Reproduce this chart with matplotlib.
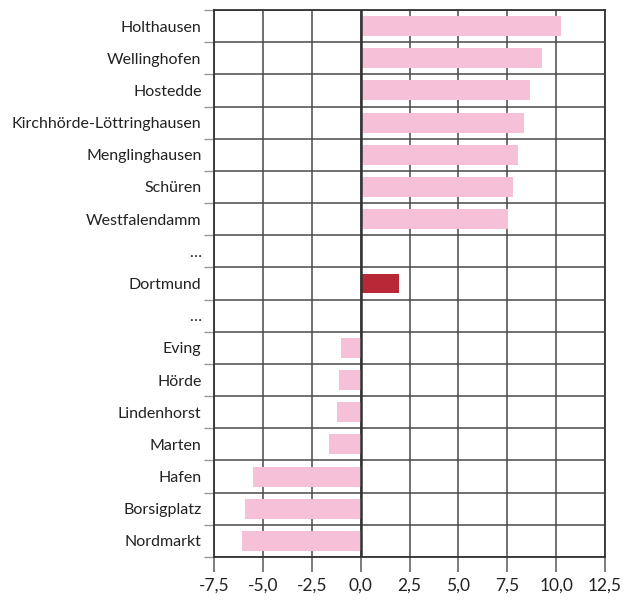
import numpy as np
import matplotlib.pyplot as plt
from matplotlib.ticker import FixedLocator

plt.rcParams['font.family'] = ['Lato', 'DejaVu Sans']

districts = ['Holthausen', 'Wellinghofen', 'Hostedde', 'Kirchhörde-Löttringhausen',
             'Menglinghausen', 'Schüren', 'Westfalendamm', '…', 'Dortmund', '…',
             'Eving', 'Hörde', 'Lindenhorst', 'Marten', 'Hafen', 'Borsigplatz', 'Nordmarkt']
values = [10.25, 9.28, 8.67, 8.34, 8.03, 7.81, 7.52, np.nan, 1.96, np.nan,
          -1.02, -1.12, -1.23, -1.64, -5.5, -5.9, -6.05]
highlight = 'Dortmund'
xticks = [-7.5, -5.0, -2.5, 0.0, 2.5, 5.0, 7.5, 10.0, 12.5]

pink = '#f7c0d9'
red = '#b82837'
gridc = '#4a4a4a'

fig = plt.figure(figsize=(6.35, 6.04), dpi=100)
ax = fig.add_axes([214 / 635, 1 - 557 / 604, 391 / 635, 547 / 604])

n = len(districts)
ypos = np.arange(n)
colors = [red if d == highlight else pink for d in districts]
vals = np.nan_to_num(values)
ax.barh(ypos, vals, height=0.62, color=colors, zorder=3)

ax.set_xlim(-7.5, 12.5)
ax.set_ylim(n - 0.5, -0.5)

ax.set_xticks(xticks)
ax.set_xticklabels([f'{t:.1f}'.replace('.', ',') for t in xticks], fontsize=12.5, color='#222222')
ax.tick_params(axis='x', length=11, width=1.2, color='#666666', pad=4)

ax.yaxis.set_major_locator(FixedLocator(np.arange(n + 1) - 0.5))
ax.yaxis.set_major_formatter(plt.NullFormatter())
ax.yaxis.set_minor_locator(FixedLocator(ypos))
ax.set_yticklabels(districts, minor=True, fontsize=11.5, color='#222222')
ax.tick_params(axis='y', which='major', length=7, width=1.0, color='#999999')
ax.tick_params(axis='y', which='minor', length=0, pad=9)

ax.grid(True, which='major', color=gridc, linewidth=1.3, alpha=0.85, zorder=1)
ax.axvline(0, color='#333333', linewidth=1.8, zorder=4)
for s in ax.spines.values():
    s.set_color('#333333')
    s.set_linewidth(1.3)

fig.savefig('out.png', dpi=100)
